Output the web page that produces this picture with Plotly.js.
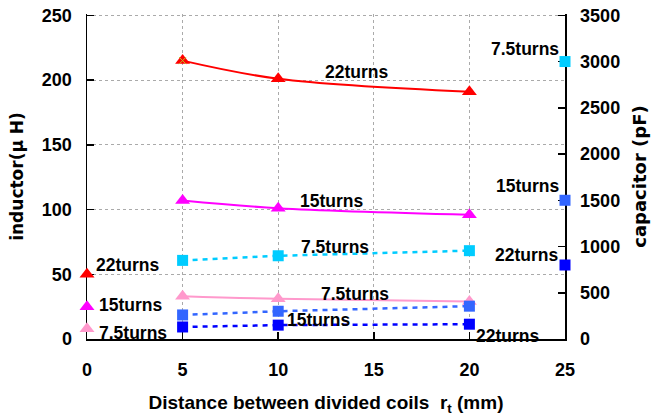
<!DOCTYPE html>
<html>
<head>
<meta charset="utf-8">
<script src="https://cdn.plot.ly/plotly-3.0.1.min.js"></script>
<style>
  html, body { margin: 0; padding: 0; background: #fff; }
  #chart { width: 652px; height: 416px; }
</style>
</head>
<body>
<div id="chart"></div>
<script>
// Distance between the divided coil halves (mm)
const distance = [5, 10, 20];

// Inductance (μH), left axis
const inductor22 = [215, 201, 191];
const inductor15 = [107, 101, 96];
const inductor75 = [33, 31, 29];

// Capacitance (pF), right axis
const capacitor75 = [850, 900, 955];
const capacitor15 = [260, 300, 355];
const capacitor22 = [130, 150, 160];

// Reference values for the undivided coil, drawn on the two side axes
const refX0 = [0, 0, 0];
const refInductor = [50, 25, 8];          // 22, 15, 7.5 turns
const refX25 = [25, 25, 25];
const refCapacitor = [3000, 1500, 800];   // 7.5, 15, 22 turns

// Axis tick values
const xTicks = [0, 5, 10, 15, 20, 25];
const yTicks = [0, 50, 100, 150, 200, 250];
const y2Ticks = [0, 500, 1000, 1500, 2000, 2500, 3000, 3500];

// Both value axes get the same tiny headroom so the top grid line is kept
const HEAD = 251 / 250;

const SANS = '"Liberation Sans", Arial, sans-serif';
const WIDE = '"DejaVu Sans", Verdana, sans-serif';

const red = '#ff0000', magenta = '#ff00ff', pink = '#ff99cc';
const cyan = '#00ccff', blue = '#3366ff', navy = '#0000ff';

function tri(x, y, color) {
  return {
    x: x, y: y, type: 'scatter', mode: 'lines+markers', cliponaxis: false,
    line: { color: color, width: 2, shape: 'spline', smoothing: 1 },
    marker: { symbol: 'triangle-up', size: 13, color: color }
  };
}
function sq(x, y, color) {
  return {
    x: x, y: y, yaxis: 'y2', type: 'scatter', mode: 'lines+markers', cliponaxis: false,
    line: { color: color, width: 2.5, dash: '5px,5px' },
    marker: { symbol: 'square', size: 11, color: color }
  };
}

const data = [
  tri(distance, inductor22, red),
  tri(distance, inductor15, magenta),
  tri(distance, inductor75, pink),
  sq(distance, capacitor75, cyan),
  sq(distance, capacitor15, blue),
  sq(distance, capacitor22, navy),
  {
    x: refX0, y: refInductor, type: 'scatter', mode: 'markers', cliponaxis: false,
    marker: { symbol: 'triangle-up', size: 13, color: [red, magenta, pink] }
  },
  {
    x: refX25, y: refCapacitor, yaxis: 'y2', type: 'scatter', mode: 'markers', cliponaxis: false,
    marker: { symbol: 'square', size: 11, color: [cyan, blue, navy] }
  },
  {
    x: [distance[0]], y: [inductor22[0]], type: 'scatter', mode: 'markers',
    marker: { symbol: 'x-thin-open', size: 7, line: { color: '#99ccff', width: 1 } }
  }
];

function lab(x, y, text, anchor) {
  return {
    x: x, y: y, xref: 'x', yref: 'y', text: text, showarrow: false,
    xanchor: anchor || 'left', yanchor: 'middle',
    font: { family: SANS, size: 17.5, color: '#000', weight: 'bold' }
  };
}

const annotations = [
  lab(0.37, 57, '22turns'),
  lab(0.52, 26, '15turns'),
  lab(0.52, 4.6, '7.5turns'),
  lab(12.34, 206, '22turns'),
  lab(11.03, 106.5, '15turns'),
  lab(11.09, 71, '7.5turns'),
  lab(12.13, 34.7, '7.5turns'),
  lab(10.36, 14.7, '15turns'),
  lab(20.24, 2.3, '22turns'),
  lab(24.79, 223.8, '7.5turns', 'right'),
  lab(24.79, 118, '15turns', 'right'),
  lab(24.74, 64.8, '22turns', 'right')
];

const tickFont = { family: SANS, size: 18, color: '#000', weight: 'bold' };

const common = {
  zeroline: false, showline: true, linecolor: '#000', linewidth: 1.5,
  ticks: 'inside', ticklen: 7, tickcolor: '#000', tickwidth: 1.5,
  tickfont: tickFont, tickmode: 'array', ticklabeloverflow: 'allow',
  layer: 'below traces'
};

const layout = {
  width: 652, height: 416,
  margin: { l: 87, r: 87, t: 14, b: 77 },
  paper_bgcolor: '#fff', plot_bgcolor: '#fff',
  showlegend: false, hovermode: false,
  font: { family: SANS },
  xaxis: Object.assign({}, common, {
    range: [0, 25], tickvals: xTicks, ticktext: xTicks.map(String),
    showgrid: true, gridcolor: '#aaaaaa', griddash: '3px,3px', gridwidth: 1,
    ticklabelstandoff: 14,
    title: { text: 'Distance between divided coils  r<sub>t</sub> (mm)',
             font: { family: SANS, size: 19, color: '#000', weight: 'bold' }, standoff: 16 }
  }),
  yaxis: Object.assign({}, common, {
    range: [0, 250 * HEAD], tickvals: yTicks, ticktext: yTicks.map(String),
    showgrid: true, gridcolor: '#aaaaaa', griddash: '3px,3px', gridwidth: 1,
    ticklabelstandoff: 10,
    title: { text: 'inductor(μ H)',
             font: { family: WIDE, size: 17, color: '#000', weight: 'bold' }, standoff: 14 }
  }),
  yaxis2: Object.assign({}, common, {
    overlaying: 'y', side: 'right',
    range: [0, 3500 * HEAD], tickvals: y2Ticks, ticktext: y2Ticks.map(String),
    showgrid: false, ticklabelstandoff: 10,
    title: { text: 'capacitor (pF)',
             font: { family: WIDE, size: 18, color: '#000', weight: 'bold' }, standoff: 14 }
  }),
  annotations: annotations
};

Plotly.newPlot('chart', data, layout, { staticPlot: true, displayModeBar: false });
</script>
</body>
</html>
